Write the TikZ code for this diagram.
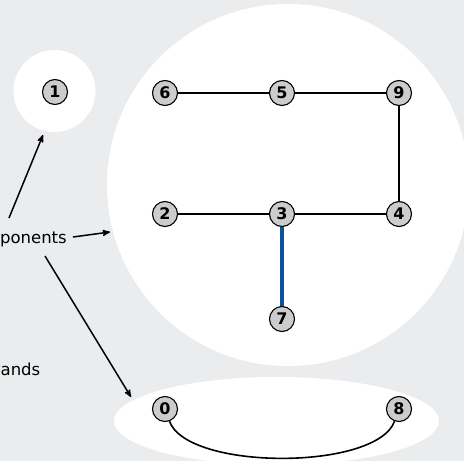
\documentclass[tikz,border=0pt]{standalone}
\usepackage{fontspec}
\setmainfont{DejaVu Sans}
\usetikzlibrary{positioning,calc,arrows}
\definecolor{bggray}{RGB}{235,236,238}
\definecolor{vgray}{RGB}{204,204,204}
\definecolor{pathblue}{RGB}{10,82,155}
\tikzstyle{vertex} = [ draw, circle, fill = vgray, inner sep = 0pt, minimum size = 25pt, line width = 1.1pt, font = \fontsize{16}{16}\selectfont\bfseries ]
\tikzstyle{edge} = [ line width = 1.6pt ]
\tikzstyle{pointer} = [ ->, >=stealth', line width = 1.5pt ]
\tikzstyle{note} = [ anchor = base east, inner sep = 0pt, font = \fontsize{16.5}{18}\selectfont ]

\begin{document}
\begin{tikzpicture}[x=1pt, y=-1pt]
	\clip (0,0) rectangle (464,461);
	\fill[bggray] (0,0) rectangle (464,461);
	\fill[white] (54.5,91) circle [radius=41pt];
	\fill[white] (288,185) circle [radius=181pt];
	\fill[white] (276.5,421) ellipse [x radius=162.5pt, y radius=44pt];

	\node[vertex] (v1) at ( 55, 92 ) {1};
	\node[vertex] (v6) at ( 165, 93 ) {6};
	\node[vertex] (v5) at ( 282, 93 ) {5};
	\node[vertex] (v9) at ( 399, 93 ) {9};
	\node[vertex] (v2) at ( 165, 214 ) {2};
	\node[vertex] (v3) at ( 282, 214 ) {3};
	\node[vertex] (v4) at ( 399, 214 ) {4};
	\node[vertex] (v7) at ( 282, 319 ) {7};
	\node[vertex] (v0) at ( 165, 409 ) {0};
	\node[vertex] (v8) at ( 399, 409 ) {8};

	\draw[edge](v6) -- (v5);
	\draw[edge](v5) -- (v9);
	\draw[edge](v9) -- (v4);
	\draw[edge](v2) -- (v3);
	\draw[edge](v3) -- (v4);
	\draw[edge, pathblue, line width=4.5pt](v3) -- (v7);
	\draw[edge](v0) to[out=-70, in=-110, looseness=0.6] (v8);

	% labels, cut off by the left edge
	\node[note] (comps) at ( 67, 243 ) {ponents};
	\node[note] (isl) at ( 40.5, 375.5 ) {ands};

	\coordinate (up) at ( 9, 218 );
	\coordinate (upend) at ( 43, 135 );
	\coordinate (mid) at ( 73, 237 );
	\coordinate (midend) at ( 110, 232 );
	\coordinate (low) at ( 45, 256 );
	\coordinate (lowend) at ( 131, 397 );
	\draw[pointer](up) -- (upend);
	\draw[pointer](mid) -- (midend);
	\draw[pointer](low) -- (lowend);
\end{tikzpicture}
\end{document}
